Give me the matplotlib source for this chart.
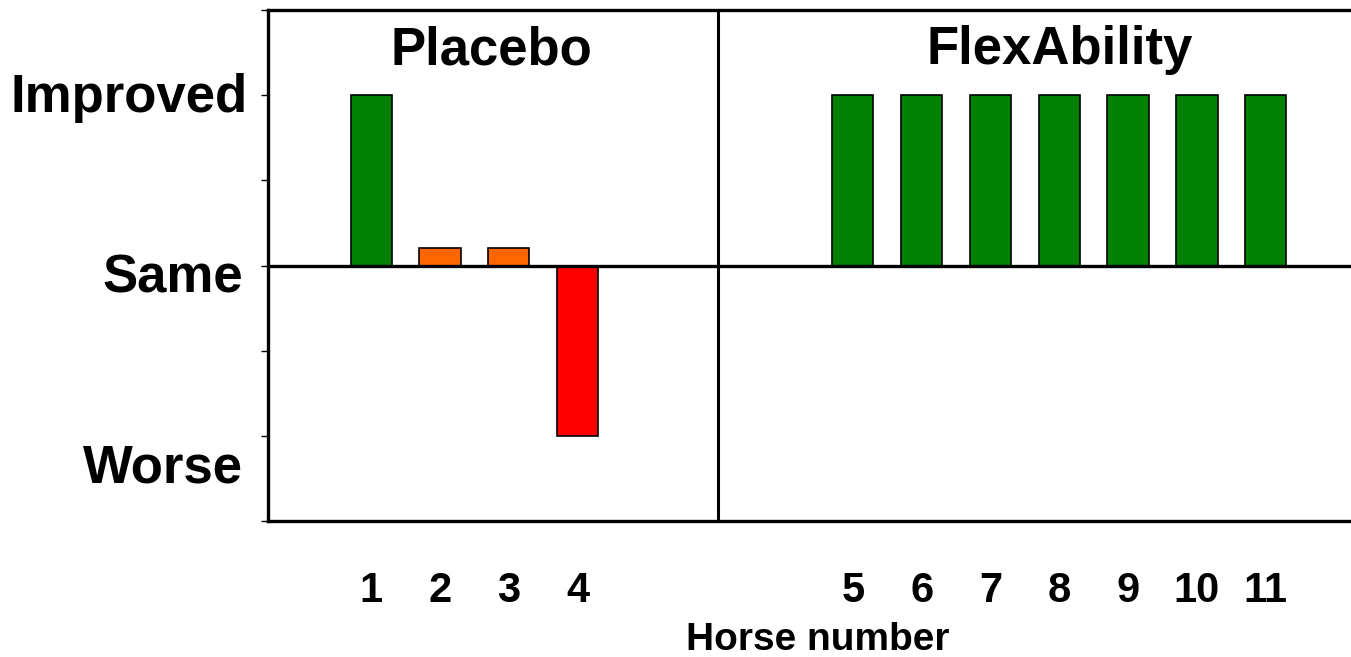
import matplotlib.pyplot as plt
import numpy as np

# horse numbers, slot positions on the x axis and the response score
horses = ["1", "2", "3", "4", "5", "6", "7", "8", "9", "10", "11"]
slots = [1, 2, 3, 4, 8, 9, 10, 11, 12, 13, 14]
scores = [1.0, 0.1, 0.1, -1.0, 1.0, 1.0, 1.0, 1.0, 1.0, 1.0, 1.0]
colours = ["#008000", "#FF6600", "#FF6600", "#FF0000",
           "#008000", "#008000", "#008000", "#008000", "#008000", "#008000", "#008000"]
groups = ["Placebo", "FlexAbility"]
group_centres = [2.75, 11]
outcomes = ["Improved", "Same", "Worse"]

bold = dict(family=["Liberation Sans", "DejaVu Sans"], weight="bold")

fig = plt.figure(figsize=(13.51, 6.57), dpi=100)
ax = fig.add_axes([268 / 1351, 1 - 521 / 657, 1 - 268 / 1351, (521 - 10) / 657])

ax.bar(slots, scores, width=0.6, color=colours, edgecolor="black", linewidth=1.2, zorder=2)
ax.axhline(0, color="black", linewidth=2.4, zorder=3)
ax.axvline(6.04, color="black", linewidth=2.2, zorder=3)

for name, cx in zip(groups, group_centres):
    ax.text(cx, 1.265, name, ha="center", va="center", fontsize=38, **bold)

ax.set_xlim(-0.5, 15.24)
ax.set_ylim(-1.5, 1.5)

# outcome labels sit a little below their ticks in the original
ytr = ax.get_yaxis_transform()
for lab, yb, xr in zip(outcomes, [0.9, -0.159, -1.276], [-0.0185, -0.023, -0.023]):
    ax.text(xr, yb, lab, ha="right", va="baseline", fontsize=38, transform=ytr, **bold)

ax.set_yticks(np.arange(-1.5, 1.51, 0.5))
ax.set_yticklabels([])
ax.tick_params(axis="y", length=5, width=1)

ax.set_xticks(slots)
ax.set_xticklabels(horses, fontsize=30, **bold)
ax.tick_params(axis="x", length=0, pad=36)

ax.spines["right"].set_visible(False)
for s in ["left", "top", "bottom"]:
    ax.spines[s].set_linewidth(2.4)

fig.text(818 / 1351, 1 - 650 / 657, "Horse number", ha="center", va="baseline", fontsize=28, **bold)

fig.savefig("out.png", dpi=100)
